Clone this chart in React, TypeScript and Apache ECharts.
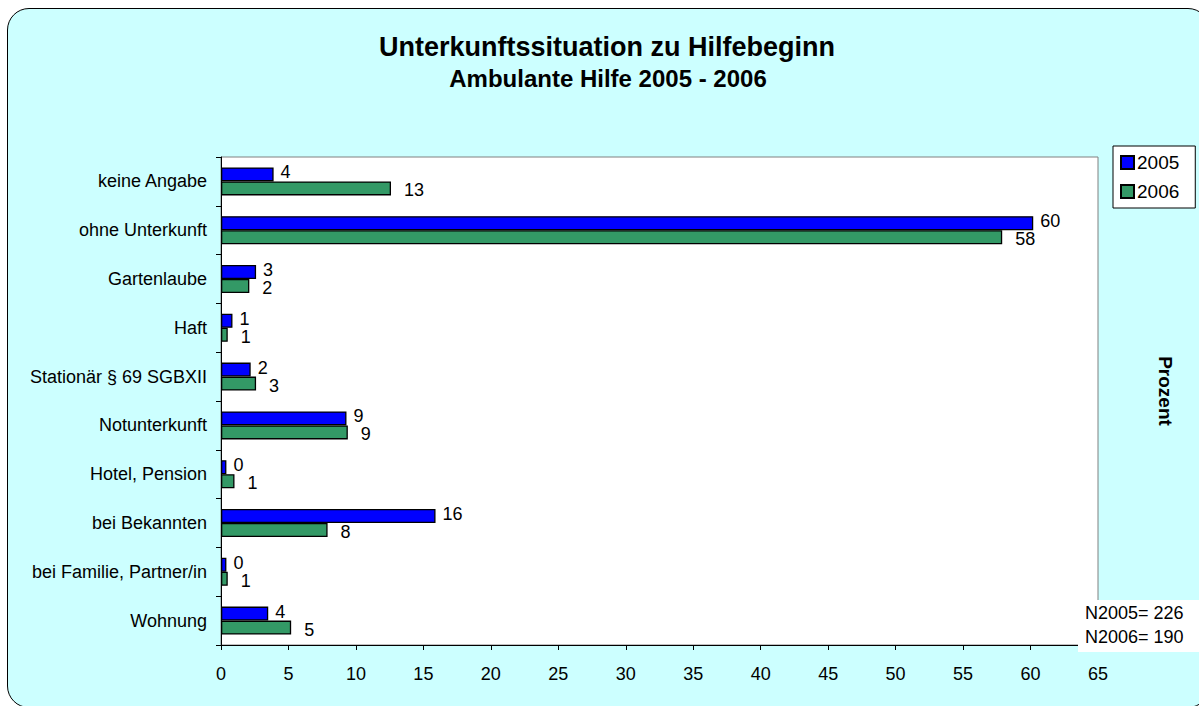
import React, { useEffect, useRef } from "react";
import * as echarts from "echarts";

const categories = [
  "keine Angabe",
  "ohne Unterkunft",
  "Gartenlaube",
  "Haft",
  "Stationär § 69 SGBXII",
  "Notunterkunft",
  "Hotel, Pension",
  "bei Bekannten",
  "bei Familie, Partner/in",
  "Wohnung",
];
const values2005 = [3.9, 60.2, 2.6, 0.85, 2.2, 9.3, 0.4, 15.9, 0.4, 3.5];
const values2006 = [12.6, 57.9, 2.1, 0.5, 2.6, 9.4, 1.0, 7.9, 0.5, 5.2];
const seriesNames = ["2005", "2006"];
const titleText = "Unterkunftssituation zu Hilfebeginn";
const subtitleText = "Ambulante Hilfe 2005 - 2006";
const axisName = "Prozent";
const nLines = ["N2005= 226", "N2006= 190"];

const FONT = "'Liberation Sans', Arial, sans-serif";

export default function App() {
  const ref = useRef<HTMLDivElement>(null);
  useEffect(() => {
    if (!ref.current) return;
    const chart = echarts.init(ref.current, undefined, { renderer: "svg" });
    const labelFmt = (p: any) => String(Math.round(p.value));
    chart.setOption({
      animation: false,
      textStyle: { fontFamily: FONT },
      grid: {
        left: 221,
        top: 157,
        right: 101,
        bottom: 61,
        show: true,
        backgroundColor: "#ffffff",
        borderColor: "#808080",
        borderWidth: 1,
      },
      legend: {
        orient: "vertical",
        left: 1113,
        top: 146,
        backgroundColor: "#ffffff",
        borderColor: "#000000",
        borderWidth: 1,
        borderRadius: 0,
        padding: [7, 16, 7, 7],
        itemWidth: 13,
        itemHeight: 13,
        itemGap: 10,
        icon: "rect",
        textStyle: { fontSize: 19, color: "#000", fontFamily: FONT, padding: [0, 0, 0, -2] },
        data: seriesNames,
      },
      xAxis: {
        type: "value",
        min: 0,
        max: 65,
        interval: 5,
        axisLine: { show: true, lineStyle: { color: "#000", width: 1 } },
        axisTick: { show: true, length: 5, lineStyle: { color: "#000" } },
        splitLine: { show: false },
        axisLabel: { fontSize: 18, color: "#000", fontFamily: FONT, margin: 20 },
      },
      yAxis: {
        type: "category",
        inverse: true,
        data: categories,
        axisLine: { show: true, lineStyle: { color: "#000", width: 1 } },
        axisTick: { show: true, length: 5, lineStyle: { color: "#000" } },
        axisLabel: { fontSize: 18, color: "#000", fontFamily: FONT, margin: 14 },
      },
      series: [
        {
          name: seriesNames[0],
          type: "bar",
          data: values2005,
          barWidth: 14,
          barGap: "0%",
          itemStyle: { color: "#0000FF", borderColor: "#000", borderWidth: 1.3 },
          label: {
            show: true,
            position: "right",
            distance: 7,
            offset: [0, -2],
            formatter: labelFmt,
            fontSize: 18,
            lineHeight: 13,
            color: "#000",
            fontFamily: FONT,
          },
        },
        {
          name: seriesNames[1],
          type: "bar",
          data: values2006,
          barWidth: 14,
          barGap: "0%",
          itemStyle: { color: "#339966", borderColor: "#000", borderWidth: 1.3 },
          label: {
            show: true,
            position: "right",
            distance: 13,
            offset: [0, 2],
            formatter: labelFmt,
            fontSize: 18,
            lineHeight: 13,
            color: "#000",
            fontFamily: FONT,
          },
        },
      ],
      graphic: [
        {
          type: "text",
          x: 607,
          y: 47,
          style: {
            text: titleText,
            font: `bold 27px ${FONT}`,
            fill: "#000",
            align: "center",
            verticalAlign: "middle",
          },
        },
        {
          type: "text",
          x: 608,
          y: 78,
          style: {
            text: subtitleText,
            font: `bold 24px ${FONT}`,
            fill: "#000",
            align: "center",
            verticalAlign: "middle",
          },
        },
        {
          type: "text",
          x: 1165,
          y: 391,
          rotation: -Math.PI / 2,
          style: {
            text: axisName,
            font: `bold 19px ${FONT}`,
            fill: "#000",
            align: "center",
            verticalAlign: "middle",
          },
        },
        {
          type: "rect",
          shape: { x: 1078, y: 600, width: 125, height: 52 },
          style: { fill: "#ffffff" },
          z: 10,
        },
        {
          type: "text",
          x: 1085,
          y: 613,
          z: 11,
          style: {
            text: nLines[0],
            font: `18px ${FONT}`,
            fill: "#000",
            align: "left",
            verticalAlign: "middle",
          },
        },
        {
          type: "text",
          x: 1085,
          y: 637,
          z: 11,
          style: {
            text: nLines[1],
            font: `18px ${FONT}`,
            fill: "#000",
            align: "left",
            verticalAlign: "middle",
          },
        },
      ],
    });
    return () => chart.dispose();
  }, []);

  return (
    <div
      style={{
        position: "absolute",
        left: 0,
        top: 0,
        width: 1199,
        height: 706,
        overflow: "hidden",
        background: "#ffffff",
      }}
    >
      <div
        style={{
          position: "absolute",
          left: 7,
          top: 8,
          width: 1203,
          height: 700,
          boxSizing: "border-box",
          border: "1.5px solid #000",
          borderRadius: 22,
          background: "#CCFFFF",
        }}
      />
      <div
        ref={ref}
        style={{ position: "absolute", left: 0, top: 0, width: 1199, height: 706 }}
      />
    </div>
  );
}
